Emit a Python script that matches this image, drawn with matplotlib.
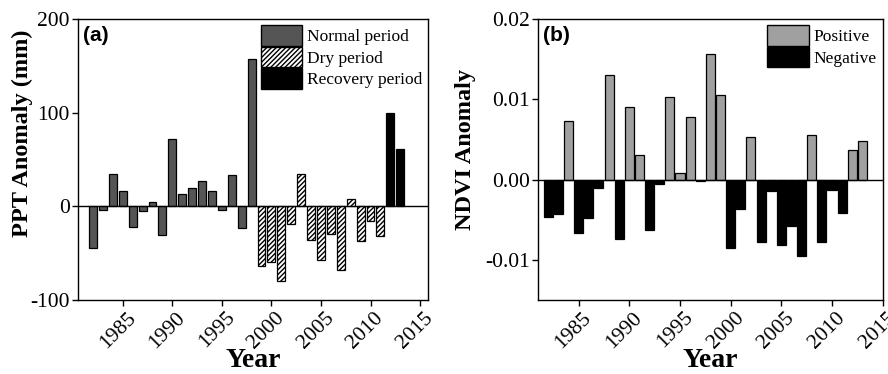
import matplotlib
matplotlib.use("Agg")
import matplotlib.pyplot as plt
from matplotlib.patches import Patch
from matplotlib.transforms import ScaledTranslation

years = list(range(1982, 2014))
ppt = [-45, -3.5, 35, 16, -22, -5.5, 5, -31, 72, 13, 19.5, 27, 16, -3.5, 33, -23, 157,
       -64, -60, -80, -19, 34.5, -36.5, -57, -29.5, -68.5, 8, -37.5, -15.5, -32,
       100, 61]
period = ["Normal"] * 17 + ["Dry"] * 13 + ["Recovery"] * 2
ndvi = [-0.0047, -0.0043, 0.0073, -0.0066, -0.0048, -0.0010, 0.0130, -0.0074,
        0.0090, 0.0030, -0.0063, -0.0005, 0.0103, 0.0008, 0.0078, -0.0002,
        0.0157, 0.0105, -0.0085, -0.0037, 0.0053, -0.0078, -0.0014, -0.0082,
        -0.0058, -0.0095, 0.0056, -0.0078, -0.0013, -0.0042, 0.0037, 0.0048]
xticks = [1985, 1990, 1995, 2000, 2005, 2010, 2015]

serif = "Liberation Serif"
plt.rcParams['font.family'] = [serif, 'DejaVu Serif']
plt.rcParams['hatch.linewidth'] = 1.0
plt.rcParams['axes.unicode_minus'] = False

fig = plt.figure(figsize=(8.88, 3.74), dpi=100)
ax1 = fig.add_axes([0.088, 0.198, 0.394, 0.751])
ax2 = fig.add_axes([0.606, 0.198, 0.388, 0.751])

styles = {"Normal": dict(facecolor="#555555", hatch=None),
          "Dry": dict(facecolor="white", hatch="///////"),
          "Recovery": dict(facecolor="black", hatch=None)}
for p in ["Normal", "Dry", "Recovery"]:
    xs = [y for y, q in zip(years, period) if q == p]
    vs = [v for v, q in zip(ppt, period) if q == p]
    ax1.bar(xs, vs, width=0.8, edgecolor="black", linewidth=0.9,
            facecolor=styles[p]["facecolor"], hatch=styles[p]["hatch"])
ax1.axhline(0, color="black", linewidth=1)
ax1.set_xlim(1980.5, 2015.8)
ax1.set_ylim(-100, 200)
ax1.set_yticks([-100, 0, 100, 200])
ax1.set_ylabel("PPT Anomaly (mm)", fontsize=17.5, fontweight="bold")
ax1.yaxis.set_label_coords(-0.128, 0.593)
legkw = dict(loc="upper right", frameon=False, fontsize=12.5,
             handlelength=2.4, handleheight=1.45, labelspacing=0.05, handletextpad=0.25,
             borderpad=0.15, borderaxespad=0.2)
handles = [Patch(facecolor="#555555", edgecolor="black", label="Normal period"),
           Patch(facecolor="white", edgecolor="black", hatch="///////", label="Dry period"),
           Patch(facecolor="black", edgecolor="black", label="Recovery period")]
ax1.legend(handles=handles, **legkw)
ax1.text(0.013, 0.975, "(a)", transform=ax1.transAxes, fontsize=15, fontweight="bold",
         family="Liberation Sans", va="top", ha="left")

colors = ["#a0a0a0" if v > 0 else "black" for v in ndvi]
ax2.bar(years, ndvi, width=0.9, color=colors, edgecolor="black", linewidth=0.9)
ax2.axhline(0, color="black", linewidth=1)
ax2.set_xlim(1981, 2015)
ax2.set_ylim(-0.015, 0.02)
ax2.set_yticks([-0.01, 0.0, 0.01, 0.02])
ax2.set_yticklabels(["-0.01", "0.00", "0.01", "0.02"])
ax2.set_ylabel("NDVI Anomaly", fontsize=17.5, fontweight="bold")
ax2.yaxis.set_label_coords(-0.179, 0.536)
handles2 = [Patch(facecolor="#a0a0a0", edgecolor="black", label="Positive"),
            Patch(facecolor="black", edgecolor="black", label="Negative")]
ax2.legend(handles=handles2, **legkw)
ax2.text(0.013, 0.975, "(b)", transform=ax2.transAxes, fontsize=15, fontweight="bold",
         family="Liberation Sans", va="top", ha="left")

off = ScaledTranslation(-5 / 100, 0, fig.dpi_scale_trans)
for ax in (ax1, ax2):
    ax.set_xticks(xticks)
    ax.set_xticklabels([str(t) for t in xticks], rotation=45, ha="center")
    ax.tick_params(axis="both", direction="out", length=4, width=1, labelsize=15.5, pad=2)
    for lab in ax.get_xticklabels():
        lab.set_transform(lab.get_transform() + off)
    ax.set_xlabel("Year", fontsize=20, fontweight="bold", labelpad=-3)
    for s in ax.spines.values():
        s.set_linewidth(1)

fig.savefig("out.png", dpi=100)
